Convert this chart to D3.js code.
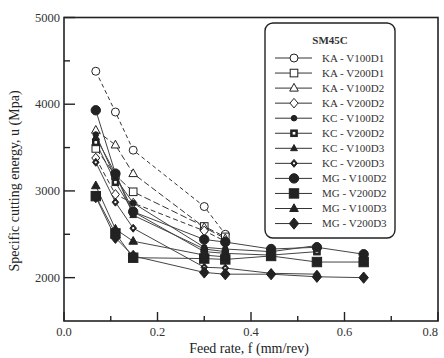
<!DOCTYPE html>
<html><head><meta charset="utf-8">
<script src="https://cdn.jsdelivr.net/npm/d3@7"></script>
<style>body{margin:0;background:#fff}svg{display:block}</style>
</head><body>
<svg id="c" width="444" height="358"></svg>
<script>
// ---- data ----
const feedShort = [0.068, 0.11, 0.148, 0.3, 0.345];
const feedMid   = [0.068, 0.11, 0.148, 0.3, 0.345, 0.443, 0.541];
const feedLong  = [0.068, 0.11, 0.148, 0.3, 0.345, 0.443, 0.541, 0.641];

const seriesNames = ["KA - V100D1","KA - V200D1","KA - V100D2","KA - V200D2",
  "KC - V100D2","KC - V200D2","KC - V100D3","KC - V200D3",
  "MG - V100D2","MG - V200D2","MG - V100D3","MG - V200D3"];

const KA_V100D1 = [4380, 3910, 3470, 2820, 2500];
const KA_V200D1 = [3490, 3180, 2990, 2590, 2470];
const KA_V100D2 = [3700, 3530, 3200, 2580, 2450];
const KA_V200D2 = [3380, 2960, 2860, 2540, 2420];
const KC_V100D2 = [3650, 3150, 2860, 2350, 2330, 2300, 2370];
const KC_V200D2 = [3560, 3100, 2760, 2300, 2280, 2260, 2300];
const KC_V100D3 = [3620, 3200, 2720, 2330, 2300];
const KC_V200D3 = [3330, 2870, 2570, 2120, 2110, 2050, 2040];
const MG_V100D2 = [3930, 3200, 2760, 2440, 2410, 2330, 2350, 2270];
const MG_V200D2 = [2940, 2510, 2230, 2220, 2210, 2250, 2180, 2180];
const MG_V100D3 = [3060, 2560, 2420, 2260, 2240];
const MG_V200D3 = [2930, 2460, 2250, 2060, 2040, 2040, 2010, 2000];

const seriesVals = [KA_V100D1, KA_V200D1, KA_V100D2, KA_V200D2,
  KC_V100D2, KC_V200D2, KC_V100D3, KC_V200D3,
  MG_V100D2, MG_V200D2, MG_V100D3, MG_V200D3];
const seriesFeeds = [feedShort, feedShort, feedShort, feedShort,
  feedMid, feedMid, feedShort, feedMid,
  feedLong, feedLong, feedShort, feedLong];

const xTicks = [0.0, 0.2, 0.4, 0.6, 0.8];
const xMinor = [0.1, 0.3, 0.5, 0.7];
const yTicks = [2000, 3000, 4000, 5000];
const yMinor = [2500, 3500, 4500];

// ---- styles per series ----
const shapes = ["circle","square","triangle","diamond","circle","sqhole","triangle","diadot",
  "circle","square","triangle","diamond"];
const filled = [false,false,false,false,true,true,true,true,true,true,true,true];
const sizes  = [4,3.8,4.3,4, 2.8,3.3,3.4,3.3, 4.7,4.7,4.3,4.7];
const dashes = ["4,3","7,3","6,3","5,3",null,null,null,null,null,null,null,null];

const svg = d3.select("#c");
const L=64,R=438,T=17.5,B=321;
const x = d3.scaleLinear().domain([0,0.8]).range([L,R]);
const y = d3.scaleLinear().domain([1500,5000]).range([B,T]);
const font = "'Liberation Serif','Times New Roman',serif";
const ink = "#222";

function marker(g, shape, cx, cy, r, fill){
  let el;
  if(shape==="circle"){
    el = g.append("circle").attr("cx",cx).attr("cy",cy).attr("r",r);
  } else if(shape==="square" || shape==="sqhole"){
    el = g.append("rect").attr("x",cx-r).attr("y",cy-r).attr("width",2*r).attr("height",2*r);
  } else if(shape==="triangle"){
    el = g.append("path").attr("d",`M${cx},${cy-r*1.1}L${cx+r},${cy+r*0.7}L${cx-r},${cy+r*0.7}Z`);
  } else {
    el = g.append("path").attr("d",`M${cx},${cy-r*1.2}L${cx+r},${cy}L${cx},${cy+r*1.2}L${cx-r},${cy}Z`);
  }
  el.attr("fill", fill ? ink : "#fff").attr("stroke", ink).attr("stroke-width", 1);
  if(shape==="sqhole"){
    g.append("rect").attr("x",cx-r*0.4).attr("y",cy-r*0.4).attr("width",r*0.8).attr("height",r*0.8).attr("fill","#fff");
  }
  if(shape==="diadot"){
    g.append("circle").attr("cx",cx).attr("cy",cy).attr("r",r*0.35).attr("fill","#fff");
  }
}

// ---- frame ----
svg.append("rect").attr("x",L).attr("y",T).attr("width",R-L).attr("height",B-T)
  .attr("fill","none").attr("stroke",ink).attr("stroke-width",1.6);

// ticks (inward)
const tk = svg.append("g").attr("stroke",ink).attr("stroke-width",1.4);
xTicks.forEach(v=>tk.append("line").attr("x1",x(v)).attr("x2",x(v)).attr("y1",B).attr("y2",B-9));
xMinor.forEach(v=>tk.append("line").attr("x1",x(v)).attr("x2",x(v)).attr("y1",B).attr("y2",B-5));
yTicks.forEach(v=>tk.append("line").attr("x1",L).attr("x2",L+11).attr("y1",y(v)).attr("y2",y(v)));
yMinor.forEach(v=>tk.append("line").attr("x1",L).attr("x2",L+6).attr("y1",y(v)).attr("y2",y(v)));

// tick labels
const fmtX = d3.format(".1f");
svg.append("g").selectAll("text").data(xTicks).join("text")
  .attr("x",d=>Math.min(x(d), 443)).attr("y",B+15)
  .attr("text-anchor",d=>x(d)+8>443 ? "end" : "middle")
  .attr("font-family",font).attr("font-size",12.5).attr("fill","#333").text(d=>fmtX(d));
svg.append("g").selectAll("text").data(yTicks).join("text")
  .attr("x",L-4).attr("y",d=>y(d)+4).attr("text-anchor","end")
  .attr("font-family",font).attr("font-size",12.5).attr("fill","#333").text(d=>d);

// axis titles
svg.append("text").attr("x",249).attr("y",353).attr("text-anchor","middle")
  .attr("font-family",font).attr("font-size",14).attr("fill","#222").text("Feed rate, f (mm/rev)");
svg.append("text").attr("transform","translate(19,181) rotate(-90)").attr("text-anchor","middle")
  .attr("font-family",font).attr("font-size",14).attr("fill","#222").text("Specific cutting energy, u (Mpa)");

// ---- series ----
const line = d3.line().x(d=>x(d[0])).y(d=>y(d[1]));
const plot = svg.append("g");
seriesVals.forEach((vals,i)=>{
  const pts = vals.map((v,j)=>[seriesFeeds[i][j], v]);
  plot.append("path").attr("d",line(pts)).attr("fill","none")
    .attr("stroke", i<4 ? "#333" : "#444").attr("stroke-width",1)
    .attr("stroke-dasharray",dashes[i]);
});
seriesVals.forEach((vals,i)=>{
  const g = plot.append("g");
  vals.forEach((v,j)=>marker(g, shapes[i], x(seriesFeeds[i][j]), y(v), sizes[i], filled[i]));
});

// ---- legend ----
const lg = svg.append("g");
lg.append("rect").attr("x",265).attr("y",23).attr("width",130).attr("height",215).attr("rx",8)
  .attr("fill","#fff").attr("stroke",ink).attr("stroke-width",1.4);
lg.append("text").attr("x",330).attr("y",44).attr("text-anchor","middle")
  .attr("font-family",font).attr("font-size",11).attr("font-weight","bold").attr("fill","#333").text("SM45C");
seriesNames.forEach((name,i)=>{
  const cy = 58 + i*15.05;
  lg.append("line").attr("x1",275).attr("x2",312).attr("y1",cy).attr("y2",cy)
    .attr("stroke","#333").attr("stroke-width",1);
  marker(lg, shapes[i], 294, cy, sizes[i], filled[i]);
  lg.append("text").attr("x",322).attr("y",cy+3.8)
    .attr("font-family",font).attr("font-size",11).attr("fill","#333").text(name);
});
</script>
</body></html>
